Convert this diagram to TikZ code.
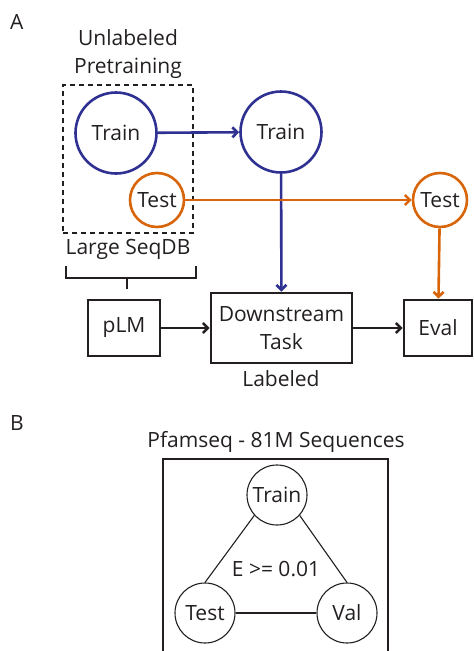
\documentclass[tikz,border=0pt]{standalone}
\usepackage{fontspec}
\setmainfont{Open Sans}
\usetikzlibrary{arrows.meta}
\definecolor{trainblue}{HTML}{2E3192}
\definecolor{testorange}{HTML}{D9650B}
\definecolor{ink}{HTML}{231F20}
\begin{document}
\begin{tikzpicture}[x=1pt,y=-1pt,
  lbl/.style={font=\fontsize{21}{27.5}\selectfont, text=ink, inner sep=0pt},
  bigset/.style={circle, draw=trainblue, line width=2.6pt, minimum size=81pt, inner sep=0pt, lbl},
  smallset/.style={circle, draw=testorange, line width=2.6pt, minimum size=54pt, inner sep=0pt, lbl},
  stagebox/.style={draw=ink, line width=2.6pt, inner sep=0pt, lbl, align=center},
  splitset/.style={circle, draw=ink, line width=1.1pt, minimum size=60pt, inner sep=0pt, lbl},
  flow/.style={line width=2.6pt, -{Straight Barb[length=5pt,width=10pt]}},
  edge/.style={draw=ink, line width=1.1pt}
]
\useasboundingbox (0,0) rectangle (474,651);

% ---------- Panel A ----------
\node[lbl, anchor=base west] (labA) at (10,29) {A};
\node[lbl, align=center] (pretrain) at (128,54) {Unlabeled\\Pretraining};

\node[draw=ink, line width=2.6pt, dash pattern=on 5pt off 4pt,
      minimum width=130pt, minimum height=148pt, inner sep=0pt] (seqdb) at (128,159) {};
\node[bigset] (trainA) at (116,133) {Train};
\node[smallset] (testA) at (157,200) {Test};
\node[lbl] (seqdblbl) at (128,249) {Large SeqDB};

% brace under the sequence database
\coordinate (brL) at (66,266);
\coordinate (brR) at (196,266);
\coordinate (brM) at (127,278);
\coordinate (brS) at (127,289);
\draw[edge, line width=1.3pt] (brL) -- (66,278) -- (196,278) -- (brR);
\draw[edge, line width=1.3pt] (brM) -- (brS);

\node[bigset] (trainB) at (281,132) {Train};
\node[smallset] (testB) at (440,200) {Test};

\node[stagebox, minimum width=72pt, minimum height=56pt] (plm) at (124,328) {pLM};
\node[stagebox, minimum width=141pt, minimum height=70pt] (down) at (281.5,328) {Downstream\\Task};
\node[lbl] (labeled) at (281,379) {Labeled};
\node[stagebox, minimum width=68pt, minimum height=56pt] (eval) at (438,328) {Eval};

\draw[flow, trainblue] (trainA) -- (trainB);
\draw[flow, trainblue] (trainB) -- (down);
\draw[flow, testorange] (testA) -- (testB);
\draw[flow, testorange] (testB) -- (eval);
\draw[flow, ink] (plm) -- (down);
\draw[flow, ink] (down) -- (eval);

% ---------- Panel B ----------
\node[lbl, anchor=base west] (labB) at (10,430) {B};
\node[lbl] (pfam) at (276,442) {Pfamseq - 81M Sequences};
\coordinate (frBL) at (163,652);
\coordinate (frBR) at (388,652);
\draw[draw=ink, line width=2.6pt] (frBL) -- (163,459) -- (388,459) -- (frBR);

\node[splitset] (trn) at (277,495) {Train};
\node[splitset] (tst) at (205,613) {Test};
\node[splitset] (val) at (347,613) {Val};
\node[lbl] (evalue) at (276,569) {E >= 0.01};
\draw[edge] (trn.222) -- (tst.north);
\draw[edge] (trn.318) -- (val.north);
\draw[edge] (tst) -- (val);
\end{tikzpicture}
\end{document}
